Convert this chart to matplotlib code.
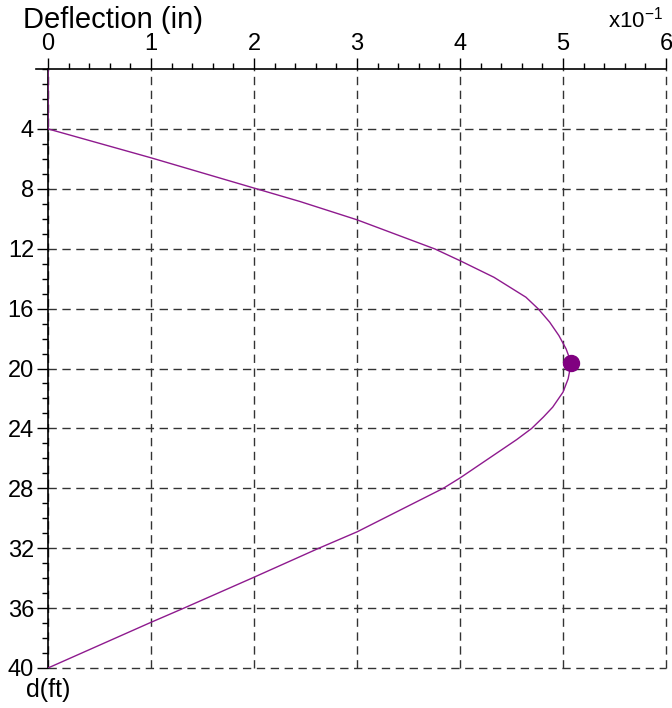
import numpy as np
import matplotlib
matplotlib.use("Agg")
import matplotlib.pyplot as plt
from matplotlib.lines import Line2D
from matplotlib.ticker import MultipleLocator

plt.rcParams['font.family'] = ['Liberation Sans', 'DejaVu Sans']

# depth (ft) and deflection (x10^-1 in)
depth = [0, 4, 5.93, 7.87, 8.85, 10.07, 12.02, 12.8, 13.91, 15.24, 16.02, 16.9,
         17.8, 18.69, 19.62, 20.69, 21.58, 22.58, 23.24, 24.0, 24.75, 27.31,
         28.0, 30.91, 32.0, 34.0, 36.0, 36.95, 40]
defl = [0, 0, 1.0, 1.96, 2.447, 3.0, 3.757, 4.0, 4.33, 4.64, 4.76, 4.87,
        4.96, 5.03, 5.08, 5.05, 5.0, 4.90, 4.81, 4.696, 4.55, 4.0,
        3.838, 3.0, 2.63, 1.98, 1.32, 1.0, 0]
max_depth = 19.62
max_defl = 5.08

x_ticks = [0, 1, 2, 3, 4, 5, 6]
y_ticks = [4, 8, 12, 16, 20, 24, 28, 32, 36, 40]

fig = plt.figure(figsize=(6.72, 7.08), dpi=100)
ax = fig.add_axes([48/672, 1 - 668/708, (666-48)/672, (668-69)/708])

ax.plot(defl, depth, color='#8e1a8e', lw=1.0, zorder=3)
ax.plot([max_defl], [max_depth], 'o', color='#800080', markersize=11.5, zorder=4)

ax.set_xlim(0, 6)
ax.set_ylim(40, 0)
ax.xaxis.set_ticks_position('top')
ax.set_xticks(x_ticks)
ax.set_yticks(y_ticks)
ax.xaxis.set_minor_locator(MultipleLocator(0.2))
ax.yaxis.set_minor_locator(MultipleLocator(1))
ax.tick_params(axis='both', which='major', length=8, width=1, labelsize=17, pad=2, direction='out')
ax.tick_params(axis='both', which='minor', length=4, width=1, direction='out')

for s in ['right', 'bottom']:
    ax.spines[s].set_visible(False)
ax.spines['top'].set_linewidth(1.2)
ax.spines['left'].set_linewidth(1.2)
# top axis line runs a little past the left axis
fig.add_artist(Line2D([36/672, 48/672], [1 - 69/708, 1 - 69/708], color='black', lw=1.2))

ax.grid(True, which='major', linestyle=(0, (6, 4)), color='#333333', lw=1.0)
for gl in ax.get_xgridlines() + ax.get_ygridlines():
    gl.set_clip_on(False)

fig.text(23/672, 1 - 20/708, 'Deflection (in)', fontsize=21, va='center', ha='left')
fig.text(663/672, 1 - 20/708, r'x10$^{\mathregular{ -1}}$', fontsize=16, va='center', ha='right')
fig.text(26/672, 1 - 690/708, 'd(ft)', fontsize=18, va='center', ha='left')

fig.savefig('out.png', dpi=100)
